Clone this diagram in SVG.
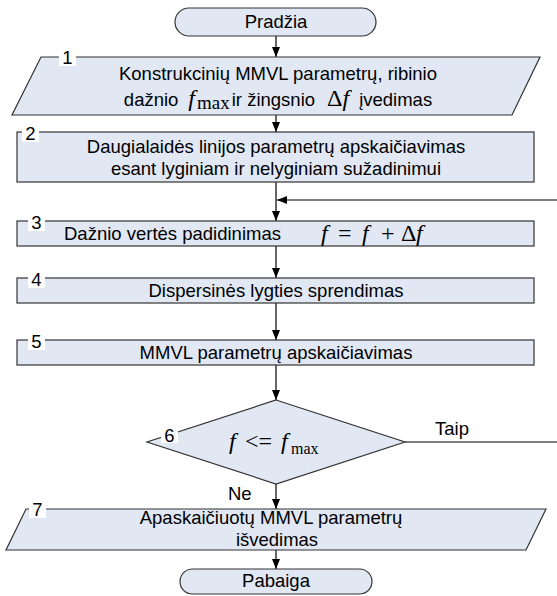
<svg xmlns="http://www.w3.org/2000/svg" width="557" height="596" viewBox="0 0 557 596">
<style>
.shape{fill:#e1e8f4;stroke:#333;stroke-width:1.2}
.t{font-family:"Liberation Sans",Arial,sans-serif;font-size:18.5px;fill:#000}
.m{font-family:"Liberation Serif","Times New Roman",serif;font-size:24px;fill:#000}
.i{font-style:italic}
.sub{font-family:"Liberation Serif","Times New Roman",serif;font-size:16px;font-style:normal}
.nb{fill:#fff;stroke:none}
.c{fill:none;stroke:#000;stroke-width:1.2}
</style>
<defs>
<marker id="ah" markerWidth="10" markerHeight="8" refX="10" refY="4" orient="auto" markerUnits="userSpaceOnUse"><path d="M0,0 L10,4 L0,8 z" fill="#000"/></marker>
</defs>
<g id="connectors">
<path class="c" d="M276 36 V57" marker-end="url(#ah)"/>
<path class="c" d="M276 115 V132" marker-end="url(#ah)"/>
<path class="c" d="M276 182 V221" marker-end="url(#ah)"/>
<path class="c" d="M276 246 V278" marker-end="url(#ah)"/>
<path class="c" d="M276 303 V340" marker-end="url(#ah)"/>
<path class="c" d="M276 365 V400" marker-end="url(#ah)"/>
<path class="c" d="M405 442 H560 V200 H277" marker-end="url(#ah)"/>
<path class="c" d="M276 484 V509" marker-end="url(#ah)"/>
<path class="c" d="M276 550 V569" marker-end="url(#ah)"/>
<text class="t" x="435" y="435">Taip</text>
<text class="t" x="228" y="500">Ne</text>
</g>
<g id="start">
<rect class="shape" x="175" y="8" width="201" height="28" rx="14"/>
<text class="t" x="276" y="28" text-anchor="middle">Pradžia</text>
</g>
<g id="n1">
<polygon class="shape" points="41,57 540,57 512,115 12,115"/>
<rect class="nb" x="59" y="50" width="17" height="16"/>
<text class="t" x="67.5" y="64" text-anchor="middle">1</text>
<text class="t" x="278" y="80" text-anchor="middle">Konstrukcinių MMVL parametrų, ribinio</text>
<text class="t" x="278" y="106" text-anchor="middle">dažnio<tspan class="m i" dx="10" style="font-size:24px">f</tspan><tspan class="sub" dx="2" dy="3" style="font-size:19px">max</tspan><tspan dx="2" dy="-3">ir žingsnio</tspan><tspan class="m" dx="12" style="font-size:24px">Δ</tspan><tspan class="m i" style="font-size:24px">f</tspan><tspan dx="10">įvedimas</tspan></text>
</g>
<g id="n2">
<rect class="shape" x="17" y="132" width="517" height="50"/>
<rect class="nb" x="22" y="126" width="17" height="16"/>
<text class="t" x="30.5" y="140" text-anchor="middle">2</text>
<text class="t" x="276" y="153" text-anchor="middle">Daugialaidės linijos parametrų apskaičiavimas</text>
<text class="t" x="276" y="175" text-anchor="middle">esant lyginiam ir nelyginiam sužadinimui</text>
</g>
<g id="n3">
<rect class="shape" x="17" y="221" width="517" height="25"/>
<rect class="nb" x="28" y="215" width="17" height="16"/>
<text class="t" x="36.5" y="229" text-anchor="middle">3</text>
<text class="t" x="64" y="240">Dažnio vertės padidinimas</text>
<text class="m" y="241"><tspan class="i" x="321">f</tspan><tspan x="338">=</tspan><tspan class="i" x="362">f</tspan><tspan x="381">+</tspan><tspan x="401">Δ</tspan><tspan class="i" x="416">f</tspan></text>
</g>
<g id="n4">
<rect class="shape" x="17" y="278" width="517" height="25"/>
<rect class="nb" x="28" y="272" width="17" height="16"/>
<text class="t" x="36.5" y="286" text-anchor="middle">4</text>
<text class="t" x="276" y="297" text-anchor="middle">Dispersinės lygties sprendimas</text>
</g>
<g id="n5">
<rect class="shape" x="17" y="340" width="517" height="25"/>
<rect class="nb" x="28" y="334" width="17" height="16"/>
<text class="t" x="36.5" y="348" text-anchor="middle">5</text>
<text class="t" x="276" y="359" text-anchor="middle">MMVL parametrų apskaičiavimas</text>
</g>
<g id="n6">
<polygon class="shape" points="276,400 405,442 276,484 147,442"/>
<rect class="nb" x="161" y="427" width="17" height="16"/>
<text class="t" x="169.5" y="442" text-anchor="middle">6</text>
<text class="m" y="449"><tspan class="i" x="229">f</tspan><tspan x="245">&lt;=</tspan><tspan class="i" x="281">f</tspan><tspan class="sub" x="291" dy="5">max</tspan></text>
</g>
<g id="n7">
<polygon class="shape" points="26,509 546,509 526,550 6,550"/>
<rect class="nb" x="29" y="502" width="17" height="16"/>
<text class="t" x="37.5" y="516" text-anchor="middle">7</text>
<text class="t" x="271" y="524" text-anchor="middle">Apaskaičiuotų MMVL parametrų</text>
<text class="t" x="277" y="546" text-anchor="middle">išvedimas</text>
</g>
<g id="end">
<rect class="shape" x="180" y="569" width="192" height="25" rx="12.5"/>
<text class="t" x="276" y="587" text-anchor="middle">Pabaiga</text>
</g>
</svg>
